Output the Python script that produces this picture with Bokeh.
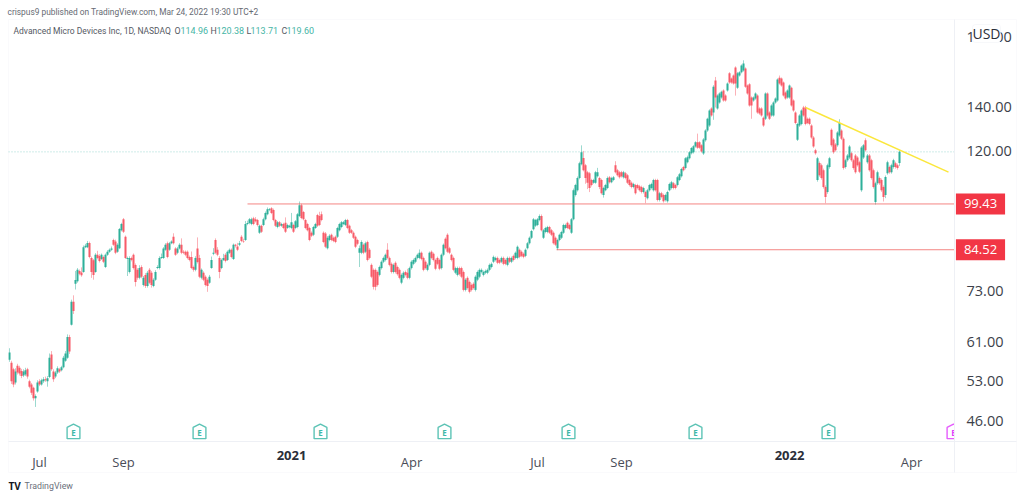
from bokeh.plotting import figure
from bokeh.core.properties import value
from bokeh.models import (ColumnDataSource, FixedTicker, Label, BoxAnnotation, PrintfTickFormatter,
                          Range1d)
from bokeh.embed import file_html
from bokeh.resources import INLINE

opens = [
57.2,56.6,55.3,52.8,56.0,55.6,55.0,54.1,54.3,55.3,
53.0,52.4,51.8,49.9,51.1,53.0,52.4,53.0,53.4,53.0,
53.8,58.3,54.9,53.9,54.7,55.3,55.1,55.7,57.0,57.6,
62.0,64.8,70.3,74.9,75.6,78.4,78.0,78.1,85.3,85.3,
86.6,82.1,81.4,78.1,83.0,82.7,81.8,82.4,79.5,83.0,
83.9,84.5,87.5,87.0,83.9,85.0,90.6,94.2,88.5,81.8,
78.1,82.1,83.0,80.1,78.7,76.5,79.5,74.6,77.3,74.3,
78.7,77.9,74.3,76.0,79.2,79.2,82.1,82.1,84.5,86.5,
84.5,86.5,88.5,84.9,83.6,84.9,86.0,83.9,83.9,83.9,
82.4,82.4,79.5,78.7,84.9,82.1,76.5,77.9,76.8,76.0,
75.2,79.2,83.3,87.5,84.5,82.1,79.2,81.5,83.0,81.5,
83.6,84.5,81.8,86.0,85.5,86.0,88.5,87.2,87.5,92.6,
92.9,92.6,94.5,94.2,93.9,89.8,92.0,92.3,94.2,95.9,
97.3,97.9,97.3,93.9,91.6,93.2,92,92.6,93,91.3,
91.6,91.3,92.3,91.3,91.6,95.3,99,96.6,93.9,92.6,
91.3,89.8,89.1,91.3,95.6,95.3,95.9,89.8,89.5,85,
87.5,89.1,88.2,88.5,88.5,90.6,91.6,92.6,92.3,93.9,
92,90.6,89.8,88.5,87.5,83.6,83.6,86,83.9,86.9,
84.5,80.1,78.7,78.7,78.1,77.3,79.2,81,81.5,84.5,
82.1,80.4,78.1,80.7,79.5,78.7,75.2,76.5,78.1,77.9,
76.5,79.2,80.4,81,82.1,82.1,83.6,82.1,81,78.7,
80.1,83.9,83.3,81.5,82.1,81.5,79.2,83,87.9,89.1,
85,83,82.1,77.9,77.3,79.2,79.2,78.1,73.3,76.5,
75.4,74.6,74.9,73.3,76,76.8,78.1,77.3,77.9,77.9,
78.7,79.5,81,81.5,82.1,81.5,81,82.1,81.5,80.1,
82.1,81,82.7,82.1,82.1,84.5,83.9,83.3,82.7,85,
86.5,88.2,90.9,92,92.3,93.9,95.3,88.2,90,90,
91.6,90.6,89.8,88.2,85,87.5,88.2,89.8,91.3,93,
92.3,89.8,94.2,102.6,104.4,109,114.5,117,114.1,111.3,
110.9,108.2,107.2,107.2,109.7,109,108.2,102.6,104.4,105.2,
109.3,107.4,108.2,114.1,112.1,111.3,111.3,109.3,110.9,110.1,
108.2,107.2,105.6,106.3,106.3,105.9,105.6,103.7,103.7,101.5,
104.4,105.2,104.4,108.2,108.2,100.8,103.3,102.6,100.8,100.4,
104.4,105.2,107,106.3,106.3,108.2,109.7,113.3,112.9,115.3,
116.9,119,119.4,121.9,123.7,123.7,122.4,118.9,124.6,129,
131.3,139.5,137.5,154,139.5,142.5,145,148.7,146.1,148.7,
158,155.1,156.8,161.3,150.1,156.8,158.6,159.6,160.8,151.3,
152,145,143.5,144.5,146.1,139.5,139.5,135,134.5,147.1,
137.5,136.1,136.1,142.5,143.5,155.6,155.1,152.9,147.6,145,
145,150.1,143.5,137.5,124.9,131.3,132,140,140,134.5,
134.5,131.3,125.9,120.3,108.2,115,114.1,112.1,105.6,103.7,
113.3,129.4,125,122.8,122.4,126.8,129,125.3,113.3,116.1,
117.2,119,116.1,118.1,117.2,115.3,104.4,117.2,124.6,115.3,
118.1,116.1,112.1,100.1,107,109,108.2,105.6,102.6,110.9,
113.3,111.3,113.3,114.9,114.1,114.96]

closes = [
58.7,53.0,52.4,54.9,54.7,54.5,54.0,54.9,55.1,53.9,
52.0,50.9,49.9,50.3,52.8,52.4,53.2,53.4,53.2,53.6,
57.6,55.3,53.4,54.7,55.5,54.9,55.7,57.6,58.5,62.0,
58.9,70.3,68.0,75.9,78.7,77.6,77.2,85.3,85.7,86.6,
82.4,78.1,77.3,83.0,82.1,81.2,83.0,81.0,83.0,83.9,
84.5,84.9,86.0,83.6,86.0,91.0,92.6,90.1,82.1,82.1,
82.1,81.5,79.2,75.4,76.5,79.2,76.8,76.5,74.3,77.9,
75.2,74.6,76.0,78.1,79.5,82.1,82.4,84.9,86.0,82.4,
86.5,87.0,86.5,83.0,84.9,86.0,83.6,83.6,83.0,82.1,
81.5,79.2,78.7,82.1,80.9,76.8,78.7,76.0,74.6,74.3,
76.8,81.5,83.6,83.6,83.0,78.1,81.5,82.1,81.2,83.9,
84.5,82.4,86.0,85.7,84.5,86.5,87.2,87.0,92.6,92.9,
94.2,94.2,92.6,93.5,92.3,92.0,90.1,94.2,96.3,97.6,
97.6,96.3,93.9,92,93.2,92,92.6,91.3,90.1,92.3,
92,93.2,90.1,93.5,95.9,99,94.6,94.2,91.3,90.6,
87.5,88.8,91.6,92.6,92,92.3,93.9,86.9,85.4,88.2,
88.8,87.5,87.2,86.9,91.3,92.6,93.2,93.2,93.9,91.3,
89.8,89.8,88.2,85.4,86.3,85,86.9,83.6,86.5,81.5,
82.1,76.8,74.1,74.1,74.6,79.5,81,82.1,83,82.1,
80.1,78.1,80.1,78.1,77.5,76.5,77.3,77.9,77.3,76.5,
79.2,81,81.5,82.1,83,83.6,81.8,78.7,79.2,80.1,
83.6,82.1,81.5,79,80.4,79,83,86,85,83.9,
83.6,81.5,78.7,79.2,79.2,77.5,76.8,73.3,76,73.8,
72.8,73.3,73.8,76.8,78.1,78.7,78.7,78.1,78.4,78.7,
80.1,80.4,82.4,82.1,80.7,80.7,82.1,80.4,80.4,82.1,
81,82.1,81.5,83.6,85.4,82.4,82.7,82.4,84.5,86.5,
88.2,90.3,94.2,93.9,94.2,95.3,90.6,90.6,91.3,91.6,
89.8,89.1,86.5,86,87.5,89.1,90,92.3,92.3,91.3,
91,94.2,104.4,106.3,109,114.9,119.4,112.1,109,107.2,
105.2,106.3,108.2,111.3,111.3,105.6,103.3,105.2,106.3,109,
107.4,109,109.3,111.3,110.1,109.3,109.7,111.3,109,107.2,
106.3,105.6,106.7,103.3,105.2,104.4,103.7,105.2,101.9,104.4,
106.3,106.7,108.2,104.4,100.8,103.3,101.9,100.4,102.6,103.7,
106.7,107.4,105.2,105.2,109.3,110.5,112.5,112.1,116.9,117.3,
119.4,121.2,122,123.7,121.4,121.4,119.8,125,129,134.5,
138.5,136.1,150.7,145,146.1,147.1,148,143.5,143.5,152.4,
152.9,152.9,152.4,152.4,158.1,158.6,162.5,163.6,150.7,147.1,
141,141,145,147.1,137.5,137,136.1,131.3,147.1,136.1,
134.5,141,142.5,144.5,154.6,152.4,151.3,146.1,144.5,148.7,
151.3,141,138.5,132.5,132,136.1,138.5,136.1,132,132.5,
132,125.9,121.9,119,116.9,110.1,109,105.6,101.9,114.1,
116.9,122.4,119.4,120.3,128.1,132.5,125.3,112.9,116.1,118.1,
121.9,116.1,112.9,111.3,114.1,111.5,121.5,122.4,120.3,118.1,
112.1,109,105.6,107,111.3,107,104.4,101.9,109.4,115.3,
111.3,114.1,116.1,113.3,112.9,119.6]

highs = [
59.6,57.0,55.6,55.5,56.4,56.0,55.4,55.3,55.6,55.6,
53.3,52.7,52.0,50.6,53.2,53.4,53.5,53.8,53.9,54.0,
58.5,59.0,55.3,55.0,55.9,55.6,56.0,58.0,59.0,62.6,
62.5,70.8,71.9,78.4,79.2,78.8,79.4,85.8,86.3,87.2,
87.0,82.5,81.8,83.5,84.2,83.2,83.4,82.8,83.4,84.4,
84.9,85.5,87.9,87.6,86.5,91.3,93.0,94.6,88.9,82.5,
82.6,82.5,83.4,80.5,79.2,80.0,80.0,77.0,77.8,78.4,
79.2,78.4,76.4,78.6,80.0,82.6,83.4,85.3,86.5,87.0,
86.9,87.4,89.6,85.3,85.4,86.5,88.0,84.4,84.3,84.3,
82.8,84.0,79.9,82.6,88.3,83.0,79.1,78.3,77.2,76.4,
77.3,82.5,85.0,88.0,85.3,82.6,81.9,83.3,83.5,84.3,
84.9,84.9,86.4,86.3,86.6,87.2,89.0,87.9,93.6,93.7,
94.6,94.7,95.0,94.9,94.3,92.4,92.4,94.7,96.8,98.2,
98.0,98.3,97.8,94.3,93.6,93.6,93.0,93.0,94.8,92.7,
92.4,96.3,92.7,93.9,96.3,100.3,99.5,97.0,94.3,93.0,
91.7,90.2,92,93,96.0,96.7,96.8,90.2,90,88.7,
89.3,89.5,88.6,88.9,91.7,93,93.6,93.6,94.3,94.3,
92.4,91,90.2,88.9,87.9,85.8,87.4,86.4,87,87.3,
85,80.5,79.1,79.1,78.5,79.9,81.4,82.5,83.4,86.5,
82.5,80.8,80.5,81.1,79.9,79.1,77.7,78.3,78.5,79,
79.6,81.4,81.9,82.5,83.4,84.6,84.0,82.5,81.4,80.5,
84,84.3,83.7,81.9,82.5,81.9,83.4,86.4,88.3,89.6,
85.4,83.4,82.5,79.6,79.6,79.6,79.6,78.5,76.4,76.9,
75.8,75,75.3,77.2,78.5,79.1,79.1,78.5,78.8,79.1,
80.5,80.8,82.8,82.5,82.5,81.9,82.5,82.5,81.9,82.5,
82.5,82.5,83.1,84,85.8,84.9,84.3,83.7,84.9,86.9,
88.6,90.7,94.6,94.3,94.6,95.8,95.8,91,91.7,92,
92,91,90.2,88.6,87.9,89.5,90.4,92.7,92.7,93.4,
92.7,94.6,105,106.8,109.6,115.5,122.4,120,114.6,111.8,
111.4,108.7,108.7,111.8,113,109.5,108.7,105.7,106.8,109.6,
109.8,109.5,109.8,115.7,112.6,111.8,111.8,111.8,111.4,110.6,
108.7,107.7,107.2,106.8,106.8,106.4,106.1,105.7,104.2,104.9,
106.8,107.2,108.7,108.7,108.7,103.8,103.8,103.1,103.1,104.2,
107.2,107.9,107.5,106.8,109.8,111,113,113.8,117.4,118,
119.9,121.7,122.5,124.2,127.6,124.2,122.9,125.6,129.6,135,
139.1,140.1,151.5,156,146.7,147.7,148.6,149.3,146.7,153,
158.7,155.7,157.4,162,158.8,159.2,163.1,165.5,161.4,151.9,
152.6,145.6,145.6,147.7,146.7,140.1,140.1,135.6,147.7,147.7,
138.1,141.6,143.1,145.1,155.2,156.8,155.7,153.5,148.2,149.3,
151.9,150.7,144.1,138.1,132.6,136.7,139.1,140.8,140.8,135.1,
135.1,131.9,126.5,120.9,117.5,115.6,114.7,112.7,106.2,114.7,
117.5,130,125.6,123.4,128.7,134.3,129.6,125.9,116.7,118.7,
122.5,119.6,116.7,118.7,117.8,115.9,122.1,123,125.5,118.7,
118.7,116.7,112.7,107.6,111.9,109.6,108.8,106.2,110,115.9,
113.9,114.7,116.7,115.5,114.7,120.38]

lows = [
56.8,52.5,51.9,52.4,54.3,54.1,53.6,53.8,54.0,53.5,
51.7,50.5,49.5,48.4,50.9,52.1,52.2,52.7,52.9,52.0,
53.6,55.0,52.9,53.6,54.4,54.6,54.9,55.5,56.8,57.4,
58.4,64.6,67.3,73.4,75.2,77.2,76.8,77.9,85.0,85.0,
82.0,76.5,76.0,77.9,81.7,80.8,81.5,80.6,79.2,82.7,
83.6,84.2,85.7,83.2,83.6,84.7,90.2,89.7,81.8,77.0,
77.7,81.1,78.8,74.2,76.0,76.1,76.4,74.2,73.8,73.9,
74.8,73.9,74.0,75.7,78.9,78.8,81.8,81.8,84.2,82.0,
84.2,86.2,86.1,82.7,83.2,84.6,83.2,83.2,82.6,81.7,
81.1,78.9,78.2,78.3,80.5,76.4,76.1,75.6,74.2,72.8,
74.9,79.0,82.9,83.2,82.6,76.4,78.9,81.2,80.8,81.2,
83.3,82.0,81.5,85.2,84.1,85.6,86.8,86.6,87.2,92.2,
92.5,92.2,92.2,93.1,91.8,89.4,89.7,91.9,93.8,95.5,
96.9,95.9,93.5,91.6,91.2,91.6,91.7,90.9,89.7,91.0,
91.2,90.9,89.7,90.9,91.2,94.9,94.2,93.8,90.9,90.2,
87.1,88.4,88.7,91,91.6,91.9,93.5,86.5,85,84.6,
87.1,87.1,86.8,86.5,88.1,90.2,91.2,92.2,91.9,90.9,
89.4,89.4,87.8,85,85.9,79.5,83.2,83.2,83.5,81.1,
81.7,76.4,73.4,73.2,74.2,76.9,78.8,80.6,81.1,81.7,
79.7,77.7,77.7,77.7,77.1,76.1,74.8,76.1,76.9,76.1,
76.1,78.8,80,80.6,81.7,81.7,81.4,78.3,78.8,78.3,
79.7,81.7,81.1,78.6,80,78.6,78.8,82.6,84.6,83.5,
83.2,81.1,78.3,77.5,76.9,77.1,76.4,72.9,72.9,73.4,
72.4,72.9,73.4,72.9,75.6,76.4,77.7,76.9,77.5,77.5,
78.3,79.1,80.6,81.1,80.3,80.3,80.6,80,80,79.7,
80.6,80.6,81.1,81.7,81.7,82,82.3,82,82.3,84.6,
86.1,87.8,90.5,91.6,91.9,93.5,90.2,87.8,89.6,89.6,
89.4,88.7,86.1,85.6,84.4,87.1,87.8,89.4,90.9,90.9,
90.6,89.4,93.8,102.1,103.9,108.5,114,111.6,106.8,104.8,
103.7,105.8,106.8,106.8,109.2,104.8,102.8,101.7,104,104.8,
106.9,107,107.8,110.8,109.6,108.8,109.2,108.8,108.5,106.7,
105.8,105.1,105.1,102.8,104.7,103.9,103.2,103.2,99.7,101,
103.9,104.7,103.9,103.9,100.3,100.3,101.4,99.9,100.3,99.9,
104,104.7,104.7,104.7,105.8,107.8,109.2,111.6,112.4,114.8,
116.4,118.5,118.9,121.4,120.9,120.9,119.3,118.3,124,128.4,
130.7,135.5,134,140,138.9,141.9,144.4,142.9,142.9,148.1,
152.3,152.3,151.8,146,149.5,156.2,158,159,150.1,146.5,
140.4,134.5,142.9,143.9,136.9,136.4,135.5,130.7,133.9,135.5,
133.9,135.5,135.5,141.9,142.9,151.8,150.7,145.5,143.9,144.4,
144.4,140.4,137.9,131.9,124.3,130.7,131.4,135.5,131.4,131.9,
131.4,125.3,121.3,118.4,107.6,109.5,108.4,105,99.7,103.1,
112.7,121.8,118.8,119.7,121.8,126.2,124.7,112.3,112.7,115.5,
116.6,115.5,112.3,110.7,113.5,110.9,103.8,116.6,119.7,114.7,
111.5,108.4,105,99.2,106.4,106.4,103.8,100.3,101.5,110.3,
110.7,110.7,112.7,112.7,112.3,113.71]

y_ticks = [46, 53, 61, 73, 120, 140, 180]
x_ticks = [15, 57, 201, 264, 306, 451]
x_tick_labels = ["Jul", "Sep", "Apr", "Jul", "Sep", "Apr"]
year_ticks = [141, 390]
year_labels = ["2021", "2022"]
earnings_done = [32, 95, 155.5, 217.5, 279.5, 343, 409.5]
earnings_next = [472]
level_values = [99.43, 84.52]
level_labels = ["99.43", "84.52"]
level_starts = [119, 273.5]
trend_x = [398, 469.5]
trend_y = [140, 111.3]
last_close = 119.60
legend_values = ["114.96", "120.38", "113.71", "119.60"]

GREEN, RED = "#22ab94", "#f7525f"
W, H = 1024, 497
X_AXIS_PRICE = 42.84      # price where the time axis sits
Y_AXIS_BAR = 472.5        # bar slot where the price axis sits
BORDER = "#eef0f5"
FONT = "Open Sans"
SMALL = "Roboto"

idx = list(range(len(closes)))
up = [i for i in idx if closes[i] >= opens[i]]
down = [i for i in idx if closes[i] < opens[i]]

def candles(ids):
    return ColumnDataSource(dict(
        x=ids,
        h=[highs[i] for i in ids], l=[lows[i] for i in ids],
        top=[max(opens[i], closes[i]) for i in ids],
        bottom=[min(opens[i], closes[i]) for i in ids]))

p = figure(width=W, height=H, output_backend="svg", toolbar_location=None,
           y_axis_type="log", y_axis_location="right",
           x_range=Range1d(-4.5, 507.5), y_range=Range1d(35.1, 204.6),
           min_border=0, background_fill_color="white", border_fill_color="white")
p.grid.visible = False
p.outline_line_color = None

# axes sit at fixed spots inside the plot area
p.yaxis.fixed_location = Y_AXIS_BAR
p.yaxis.bounds = (38.3, 191)
p.yaxis.ticker = FixedTicker(ticks=y_ticks)
p.yaxis.formatter = PrintfTickFormatter(format="%.2f")
p.yaxis.major_label_text_font = FONT
p.yaxis.major_label_text_font_size = "14.5px"
p.yaxis.major_label_text_color = "#3c3f4a"
p.yaxis.major_label_standoff = 6
p.yaxis.major_tick_line_color = None
p.yaxis.minor_tick_line_color = None
p.yaxis.axis_line_color = BORDER

p.xaxis.fixed_location = X_AXIS_PRICE
p.xaxis.bounds = (-0.5, 503.5)
p.xaxis.ticker = FixedTicker(ticks=x_ticks)
p.xaxis.major_label_overrides = dict(zip(x_ticks, x_tick_labels))
p.xaxis.major_label_text_font = FONT
p.xaxis.major_label_text_font_size = "13px"
p.xaxis.major_label_text_color = "#4a4d58"
p.xaxis.major_label_standoff = 6
p.xaxis.major_tick_line_color = None
p.xaxis.minor_tick_line_color = None
p.xaxis.axis_line_color = BORDER

# last close dotted line
p.line([-0.5, Y_AXIS_BAR], [last_close, last_close], line_color="#9fd8d2",
       line_dash=[1, 2], line_width=1)

for ids, col in ((up, GREEN), (down, RED)):
    src = candles(ids)
    p.segment("x", "h", "x", "l", source=src, line_color=col, line_width=1, line_alpha=0.45)
    p.vbar("x", 1.05, "bottom", "top", source=src, fill_color=col, line_color=None, fill_alpha=0.9)

# horizontal levels
for lv, st in zip(level_values, level_starts):
    p.line([st, Y_AXIS_BAR], [lv, lv], line_color="#ef5350", line_alpha=0.7, line_width=1)
# trend line
p.line(trend_x, trend_y, line_color="#fbe73c", line_width=1.5)

# earnings markers
E_LOW, E_MID, E_TOP, E_TXT = 43.25, 45.0, 45.55, 44.2
def house(xs, color):
    px = [[x - 3.2, x - 3.2, x, x + 3.2, x + 3.2] for x in xs]
    py = [[E_LOW, E_MID, E_TOP, E_MID, E_LOW] for _ in xs]
    p.patches(px, py, fill_color="white", line_color=color, line_width=1.4, line_alpha=0.85)
    p.text(xs, [E_TXT] * len(xs), text=["E"] * len(xs), text_color=color, text_font=value(FONT),
           text_font_size="8px", text_font_style="bold", text_align="center", text_baseline="middle")
house(earnings_done, "#3fb8a8")
house(earnings_next, "#e040fb")

def box(left, right, top, bottom, **kw):
    p.add_layout(BoxAnnotation(left=left, right=right, top=H - top, bottom=H - bottom,
                               left_units="screen", right_units="screen", top_units="screen",
                               bottom_units="screen", **kw))

# white price-scale panel hides what runs past the pane
box(954, 1016, 19, 472, fill_color="white", fill_alpha=1, line_color=None, level="glyph")
# outer frame
box(8, 1016, 19, 472, fill_color=None, line_color=BORDER, line_width=1)

def lab(text, x, y, size="11px", color="#555", align="left", style="normal", font=FONT, **kw):
    p.add_layout(Label(x=x, y=H - y, x_units="screen", y_units="screen", text=text,
                       text_font=font, text_font_size=size, text_color=color, text_align=align,
                       text_font_style=style, text_baseline="middle", **kw))

lab("crispus9 published on TradingView.com, Mar 24, 2022 19:30 UTC+2", 7, 11, "8.4px", "#666a73", font=SMALL)
lab("Advanced Micro Devices Inc, 1D, NASDAQ", 13, 30, "8.5px", "#555963", font=SMALL)
for letter, lx, val, vx in zip("OHLC", (174, 210, 246, 281), legend_values, (180, 216, 250, 286)):
    lab(letter, lx, 30, "8.8px", "#555963", font=SMALL)
    lab(val, vx, 30, "9px", "#45b5a5", font=SMALL)

for tx, txt in zip(year_ticks, year_labels):
    p.add_layout(Label(x=tx, y=H - 455, x_units="data", y_units="screen", text=txt,
                       text_font=FONT, text_font_size="13px", text_font_style="bold",
                       text_color="#2a2e39", text_align="center", text_baseline="middle"))

# price tags
for lv, txt in zip(level_values, level_labels):
    p.add_layout(Label(x=980, y=lv, x_units="screen", y_units="data", text=txt, text_font=FONT,
                       text_font_size="13px", text_color="white", text_align="center",
                       text_baseline="middle", background_fill_color="#f23645",
                       padding=(8, 6)))

# USD box
box(972, 1000, 24, 42, fill_color="white", fill_alpha=1, line_color="#e6e8ee", line_width=1, border_radius=3)
lab("USD", 986, 33, "14px", "#2a2e39", align="center")

# footer
lab("TV", 8, 485, "10px", "#131722", style="bold")
lab("TradingView", 24, 485, "8.8px", "#6b6f7a", font=SMALL)

open("out.html", "w").write(file_html(p, INLINE))
